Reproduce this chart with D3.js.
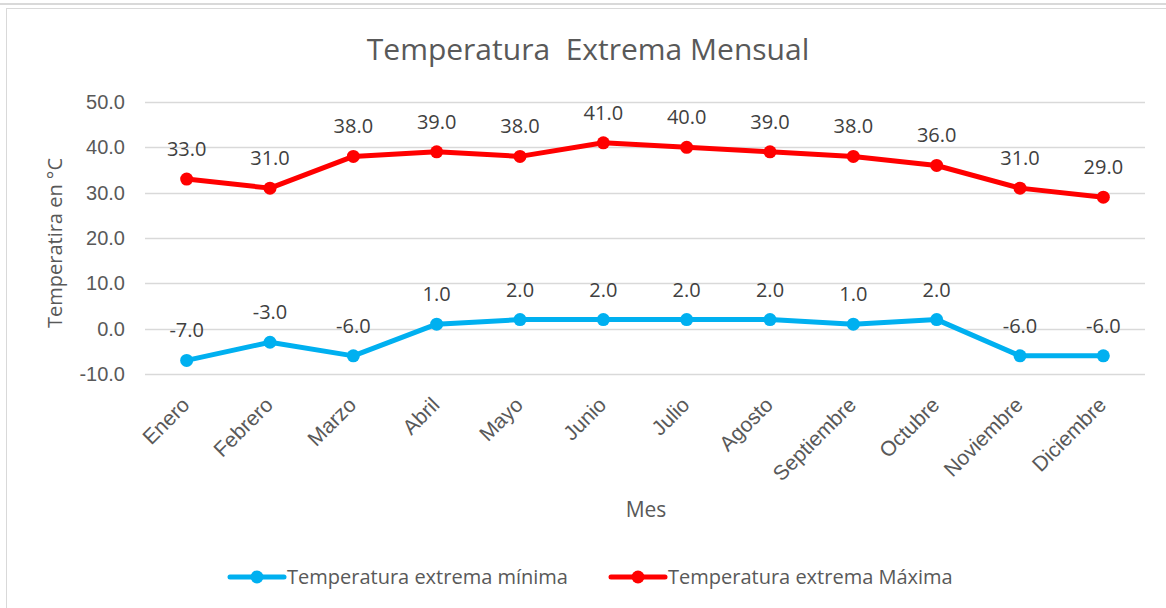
<!DOCTYPE html>
<html>
<head>
<meta charset="utf-8">
<script src="https://cdn.jsdelivr.net/npm/d3@7"></script>
<style>
  body { margin: 0; background: #fff; }
  svg { display: block; font-family: "Open Sans", "Liberation Sans", sans-serif; }
</style>
</head>
<body>
<div id="chart"></div>
<script>
const months = ["Enero", "Febrero", "Marzo", "Abril", "Mayo", "Junio", "Julio", "Agosto", "Septiembre", "Octubre", "Noviembre", "Diciembre"];
const tempMin = [-7, -3, -6, 1, 2, 2, 2, 2, 1, 2, -6, -6];
const tempMax = [33, 31, 38, 39, 38, 41, 40, 39, 38, 36, 31, 29];
const yTicks = [-10, 0, 10, 20, 30, 40, 50];
const seriesNames = ["Temperatura extrema mínima", "Temperatura extrema Máxima"];

const width = 1166, height = 608;
const margin = {top: 102, right: 21, bottom: 234, left: 145};
const textColor = "#595959";
const colors = ["#00B0F0", "#FF0000"];

// plain hyphen for negatives, like the original
const fmt = d3.formatLocale({decimal: ".", thousands: ",", grouping: [3], currency: ["", ""], minus: "-"}).format(".1f");

const svg = d3.select("#chart").append("svg")
  .attr("width", width)
  .attr("height", height);

// outer frame
svg.append("line")
  .attr("x1", 0).attr("x2", width).attr("y1", 4).attr("y2", 4)
  .attr("stroke", "#d9d9d9").attr("stroke-width", 2);
svg.append("rect")
  .attr("x", 6.5).attr("y", 8.5)
  .attr("width", width).attr("height", height)
  .attr("fill", "none").attr("stroke", "#d9d9d9");

const x = d3.scaleBand()
  .domain(months)
  .range([margin.left, width - margin.right]);

const y = d3.scaleLinear()
  .domain([-10, 50])
  .range([height - margin.bottom, margin.top]);

// gridlines
svg.append("g")
  .selectAll("line")
  .data(yTicks)
  .enter().append("line")
    .attr("x1", margin.left)
    .attr("x2", width - margin.right)
    .attr("y1", d => Math.round(y(d)) + 0.5)
    .attr("y2", d => Math.round(y(d)) + 0.5)
    .attr("stroke", "#d9d9d9")
    .attr("stroke-width", 1.5);

// y axis labels
const yAxis = svg.append("g")
  .attr("transform", `translate(${margin.left - 20},0)`)
  .call(d3.axisLeft(y).tickValues(yTicks).tickSize(0).tickFormat(fmt));
yAxis.select(".domain").remove();
yAxis.selectAll("text")
  .attr("fill", textColor)
  .style("font-size", "20px")
  .attr("x", 0);

// x axis labels
const xAxis = svg.append("g")
  .attr("transform", `translate(0,${height - margin.bottom})`)
  .call(d3.axisBottom(x).tickSize(0));
xAxis.select(".domain").remove();
xAxis.selectAll("text")
  .attr("fill", textColor)
  .style("font-size", "21px")
  .attr("text-anchor", "end")
  .attr("transform", "translate(-1,27) rotate(-45)")
  .attr("dy", "0.35em")
  .attr("y", 0);

// titles
svg.append("text")
  .attr("x", 588).attr("y", 60)
  .attr("text-anchor", "middle")
  .attr("fill", textColor)
  .style("font-size", "30px")
  .style("white-space", "pre")
  .text("Temperatura  Extrema Mensual");

svg.append("text")
  .attr("transform", `translate(62,243) rotate(-90)`)
  .attr("text-anchor", "middle")
  .attr("fill", textColor)
  .style("font-size", "20px")
  .text("Temperatira en °C");

svg.append("text")
  .attr("x", 646).attr("y", 517)
  .attr("text-anchor", "middle")
  .attr("fill", textColor)
  .style("font-size", "21px")
  .text("Mes");

// series
const line = d3.line()
  .x((d, i) => x(months[i]) + x.bandwidth() / 2)
  .y(d => y(d));

[tempMin, tempMax].forEach((values, k) => {
  const g = svg.append("g");
  g.append("path")
    .datum(values)
    .attr("fill", "none")
    .attr("stroke", colors[k])
    .attr("stroke-width", 5)
    .attr("stroke-linejoin", "round")
    .attr("d", line);
  g.selectAll("circle")
    .data(values)
    .enter().append("circle")
      .attr("cx", (d, i) => x(months[i]) + x.bandwidth() / 2)
      .attr("cy", d => y(d))
      .attr("r", 6.5)
      .attr("fill", colors[k]);
  g.selectAll("text")
    .data(values)
    .enter().append("text")
      .attr("x", (d, i) => x(months[i]) + x.bandwidth() / 2)
      .attr("y", d => y(d) - 23)
      .attr("text-anchor", "middle")
      .attr("fill", "#404040")
      .style("font-size", "20px")
      .text(d => fmt(d));
});

// legend
const legendX = [230, 611];
seriesNames.forEach((name, k) => {
  const lg = svg.append("g").attr("transform", `translate(${legendX[k]},577)`);
  lg.append("line")
    .attr("x1", 0).attr("x2", 54)
    .attr("stroke", colors[k]).attr("stroke-width", 5)
    .attr("stroke-linecap", "round");
  lg.append("circle").attr("cx", 27).attr("r", 6.5).attr("fill", colors[k]);
  lg.append("text")
    .attr("x", 57).attr("dy", "0.35em")
    .attr("fill", textColor)
    .style("font-size", "20px")
    .text(name);
});
</script>
</body>
</html>
